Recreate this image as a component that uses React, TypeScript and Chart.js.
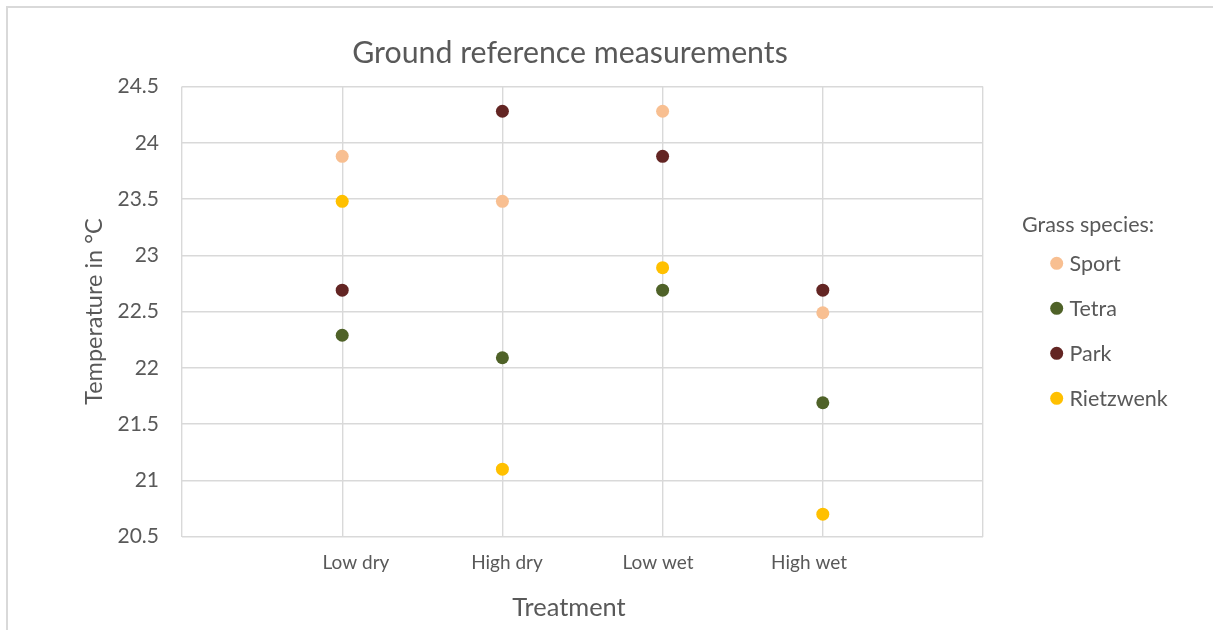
import React, { useEffect, useRef } from "react";
import { Chart, registerables } from "chart.js";

Chart.register(...registerables);

// Treatments along the x axis (points sit at positions 1..4)
const treatments = ["Low dry", "High dry", "Low wet", "High wet"];

// Ground temperature (°C) per grass species, one value per treatment
const sportValues = [23.88, 23.48, 24.28, 22.49];
const tetraValues = [22.29, 22.09, 22.69, 21.69];
const parkValues = [22.69, 24.28, 23.88, 22.69];
const rietzwenkValues = [23.48, 21.1, 22.89, 20.7];

const speciesNames = ["Sport", "Tetra", "Park", "Rietzwenk"];
const speciesValues = [sportValues, tetraValues, parkValues, rietzwenkValues];
const speciesColors = ["#F8BF91", "#4F6228", "#632523", "#FFC000"];

const yMin = 20.5;
const yMax = 24.5;
const yStep = 0.5;

const chartTitle = "Ground reference measurements";
const xTitle = "Treatment";
const yTitle = "Temperature in °C";
const legendTitle = "Grass species:";

const FONT = "Lato, 'Open Sans', sans-serif";
const TEXT = "#595959";
const GRID = "#D9D9D9";

// Draws the chart title, the x-axis title and the legend block on the right.
const decorations = {
  id: "decorations",
  afterDraw(chart: Chart) {
    const { ctx } = chart;
    ctx.save();
    ctx.fillStyle = TEXT;
    ctx.textBaseline = "alphabetic";

    ctx.font = `30.3px ${FONT}`;
    ctx.textAlign = "center";
    ctx.fillText(chartTitle, 570, 63);

    ctx.font = `25.4px ${FONT}`;
    ctx.fillText(xTitle, 569, 616);

    ctx.textAlign = "left";
    ctx.font = `21.5px ${FONT}`;
    ctx.fillText(legendTitle, 1022, 232);

    chart.data.datasets.forEach((ds: any, i: number) => {
      const cy = 263.3 + i * 45;
      ctx.beginPath();
      ctx.arc(1056.7, cy, 6.5, 0, Math.PI * 2);
      ctx.fillStyle = ds.backgroundColor;
      ctx.fill();
      ctx.fillStyle = TEXT;
      ctx.fillText(ds.label, 1069.5, cy + 7.5);
    });
    ctx.restore();
  },
};

export default function App() {
  const canvasRef = useRef<HTMLCanvasElement | null>(null);

  useEffect(() => {
    const canvas = canvasRef.current;
    if (!canvas) return;
    const chart = new Chart(canvas, {
      type: "scatter",
      data: {
        datasets: speciesNames.map((name, i) => ({
          label: name,
          data: speciesValues[i].map((v, j) => ({ x: j + 1, y: v })),
          backgroundColor: speciesColors[i],
          borderColor: speciesColors[i],
          borderWidth: 0,
          pointRadius: 6.5,
          pointHoverRadius: 6.5,
        })),
      },
      options: {
        responsive: false,
        animation: false,
        events: [],
        layout: { padding: { left: 60, right: 230, top: 86.5, bottom: 0 } },
        plugins: {
          legend: { display: false },
          title: { display: false },
          tooltip: { enabled: false },
        },
        scales: {
          // Value axis for the points: vertical gridlines at every position
          x: {
            type: "linear",
            position: "bottom",
            min: 0,
            max: 5,
            afterFit: (s: any) => {
              s.height = 0;
            },
            ticks: { stepSize: 1, display: false },
            grid: { color: GRID, lineWidth: 1.4, drawTicks: false },
            border: { display: false },
          },
          // Label axis for the treatment names, a little tighter than the points
          xLabels: {
            type: "linear",
            position: "bottom",
            min: -0.152,
            max: 5.152,
            afterBuildTicks: (s: any) => {
              s.ticks = treatments.map((_, i) => ({ value: i + 1 }));
            },
            afterFit: (s: any) => {
              s.height = 93.3;
            },
            ticks: {
              autoSkip: false,
              maxRotation: 0,
              padding: 15,
              color: TEXT,
              font: { family: FONT, size: 19 },
              callback: (v: any) => treatments[Math.round(Number(v)) - 1] ?? "",
            },
            grid: { display: false, drawTicks: false },
            border: { display: false },
          },
          y: {
            type: "linear",
            min: yMin,
            max: yMax,
            afterFit: (s: any) => {
              s.width = 122;
            },
            ticks: {
              stepSize: yStep,
              padding: 23,
              color: TEXT,
              font: { family: FONT, size: 21 },
              callback: (v: any) => String(Number(v)),
            },
            title: {
              display: true,
              text: yTitle,
              color: TEXT,
              font: { family: FONT, size: 23.5 },
              padding: { top: 20, bottom: 0 },
            },
            grid: { color: GRID, lineWidth: 1.4, drawTicks: false },
            border: { display: false },
          },
        },
      },
      plugins: [decorations],
    });
    return () => chart.destroy();
  }, []);

  return (
    <div
      style={{
        position: "fixed",
        left: 0,
        top: 0,
        width: 1213,
        height: 630,
        overflow: "hidden",
        background: "#fff",
      }}
    >
      <div
        style={{
          position: "absolute",
          left: 6,
          top: 6,
          width: 1400,
          height: 800,
          borderTop: `2px solid ${GRID}`,
          borderLeft: `2px solid ${GRID}`,
        }}
      />
      <canvas
        ref={canvasRef}
        width={1213}
        height={630}
        style={{ position: "absolute", left: 0, top: 0 }}
      />
    </div>
  );
}
